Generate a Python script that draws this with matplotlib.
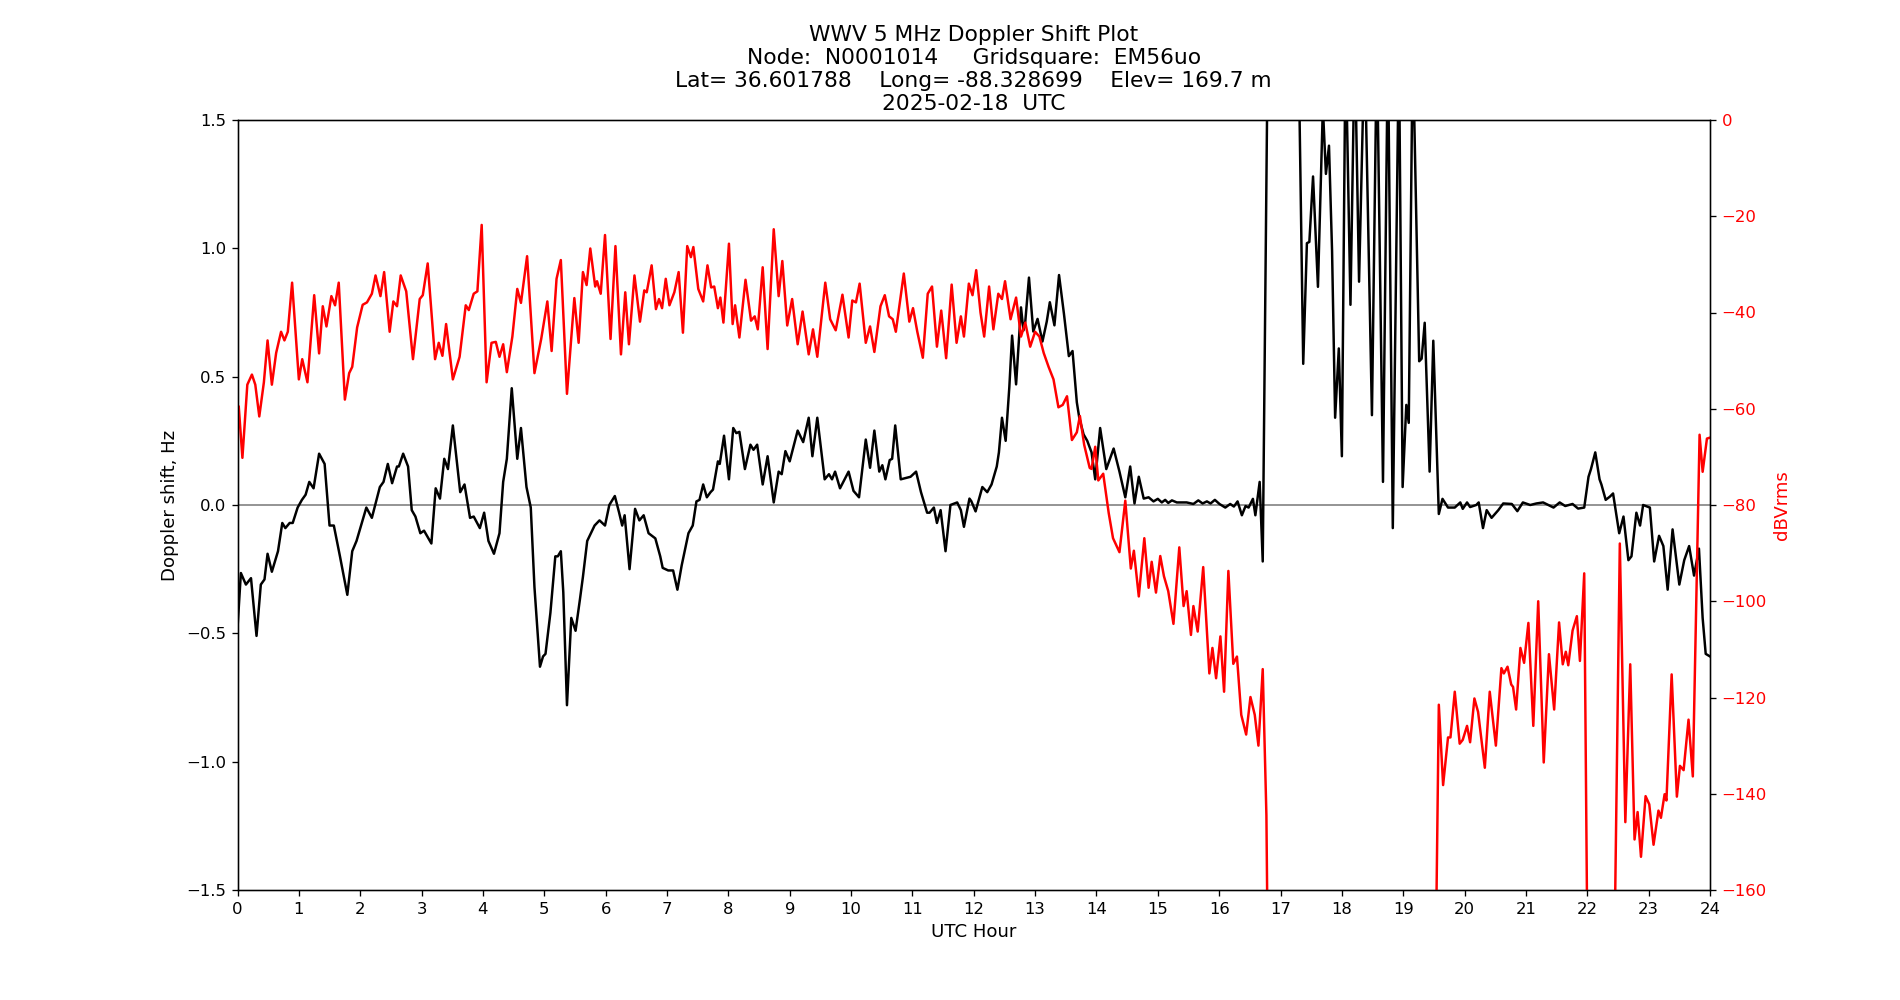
import matplotlib
matplotlib.use("Agg")
import matplotlib.pyplot as plt

dop_hours = [0.00,0.055,0.137,0.22,0.31,0.38,0.44,0.49,0.56,0.66,0.73,0.78,0.85,0.90,0.98,1.05,1.11,1.17,1.24,1.33,1.42,1.50,1.57,1.67,1.79,1.87,1.94,2.10,2.19,2.32,2.38,2.45,2.52,2.60,2.63,2.70,2.78,2.84,2.90,2.98,3.04,3.16,3.23,3.30,3.37,3.43,3.51,3.63,3.70,3.79,3.85,3.95,4.02,4.09,4.18,4.27,4.33,4.39,4.47,4.56,4.62,4.71,4.78,4.84,4.93,4.98,5.02,5.10,5.18,5.22,5.27,5.31,5.37,5.44,5.51,5.58,5.63,5.70,5.82,5.90,5.99,6.06,6.15,6.22,6.27,6.31,6.39,6.48,6.55,6.62,6.70,6.81,6.89,6.93,7.02,7.10,7.17,7.24,7.35,7.42,7.48,7.53,7.59,7.65,7.71,7.75,7.83,7.86,7.93,8.01,8.08,8.13,8.18,8.27,8.36,8.41,8.47,8.56,8.64,8.74,8.82,8.87,8.93,9.00,9.13,9.22,9.31,9.37,9.45,9.57,9.64,9.69,9.74,9.82,9.96,10.04,10.13,10.24,10.31,10.38,10.46,10.51,10.56,10.63,10.67,10.72,10.81,10.97,11.06,11.14,11.24,11.28,11.35,11.40,11.46,11.54,11.62,11.73,11.79,11.84,11.93,11.96,12.03,12.14,12.22,12.29,12.375,12.41,12.46,12.52,12.58,12.625,12.69,12.77,12.81,12.84,12.90,12.97,13.04,13.12,13.19,13.24,13.315,13.39,13.47,13.55,13.61,13.68,13.72,13.79,13.85,13.92,13.98,14.06,14.16,14.28,14.375,14.47,14.55,14.62,14.69,14.77,14.85,14.93,15.00,15.065,15.12,15.17,15.23,15.31,15.47,15.58,15.66,15.73,15.80,15.86,15.93,16.005,16.10,16.18,16.24,16.30,16.37,16.43,16.48,16.55,16.59,16.66,16.71,16.80,17.28,17.37,17.43,17.47,17.53,17.61,17.69,17.74,17.79,17.84,17.89,17.95,18.00,18.06,18.14,18.21,18.28,18.37,18.49,18.57,18.67,18.75,18.83,18.93,18.99,19.05,19.09,19.155,19.26,19.30,19.35,19.43,19.49,19.58,19.64,19.73,19.84,19.93,19.97,20.04,20.09,20.19,20.23,20.30,20.36,20.44,20.55,20.63,20.77,20.86,20.95,21.07,21.17,21.28,21.45,21.55,21.64,21.76,21.85,21.95,22.02,22.06,22.13,22.20,22.23,22.30,22.37,22.42,22.52,22.59,22.67,22.72,22.80,22.86,22.91,23.02,23.09,23.17,23.24,23.31,23.39,23.50,23.58,23.66,23.74,23.82,23.88,23.93,24.00]
dop_hz = [-0.48,-0.265,-0.31,-0.285,-0.51,-0.31,-0.29,-0.19,-0.26,-0.18,-0.07,-0.09,-0.07,-0.07,-0.01,0.02,0.04,0.09,0.065,0.20,0.16,-0.08,-0.08,-0.20,-0.35,-0.18,-0.14,-0.01,-0.05,0.07,0.09,0.16,0.085,0.15,0.15,0.20,0.15,-0.02,-0.045,-0.11,-0.10,-0.15,0.065,0.025,0.18,0.14,0.31,0.05,0.08,-0.05,-0.045,-0.09,-0.03,-0.14,-0.19,-0.11,0.09,0.18,0.455,0.18,0.30,0.07,-0.01,-0.32,-0.63,-0.59,-0.58,-0.42,-0.20,-0.20,-0.18,-0.34,-0.78,-0.44,-0.49,-0.37,-0.28,-0.14,-0.08,-0.06,-0.08,0.0,0.035,-0.03,-0.08,-0.04,-0.25,-0.015,-0.06,-0.04,-0.11,-0.13,-0.20,-0.245,-0.255,-0.255,-0.33,-0.235,-0.11,-0.08,0.014,0.02,0.08,0.03,0.05,0.06,0.17,0.16,0.27,0.10,0.30,0.28,0.285,0.14,0.235,0.215,0.235,0.08,0.19,0.01,0.13,0.12,0.21,0.17,0.29,0.245,0.34,0.19,0.34,0.10,0.12,0.10,0.13,0.065,0.13,0.055,0.03,0.255,0.145,0.29,0.13,0.155,0.10,0.175,0.18,0.31,0.10,0.11,0.13,0.05,-0.03,-0.03,-0.01,-0.07,-0.02,-0.18,0.0,0.01,-0.02,-0.085,0.025,0.015,-0.025,0.07,0.05,0.08,0.15,0.205,0.34,0.25,0.46,0.66,0.47,0.77,0.68,0.715,0.886,0.676,0.725,0.637,0.715,0.79,0.70,0.896,0.745,0.58,0.60,0.40,0.34,0.275,0.25,0.205,0.10,0.30,0.14,0.22,0.13,0.03,0.15,0.006,0.11,0.025,0.03,0.014,0.024,0.01,0.02,0.008,0.018,0.01,0.01,0.004,0.018,0.006,0.014,0.006,0.02,0.004,-0.01,0.004,-0.006,0.014,-0.04,-0.004,-0.01,0.024,-0.04,0.09,-0.22,2.0,2.0,0.55,1.02,1.025,1.28,0.85,1.55,1.29,1.40,0.99,0.34,0.61,0.19,1.8,0.78,1.8,0.87,1.8,0.35,1.8,0.09,1.8,-0.09,1.8,0.07,0.39,0.32,1.8,0.56,0.57,0.71,0.13,0.64,-0.035,0.024,-0.01,-0.01,0.01,-0.015,0.01,-0.008,0.0,0.01,-0.09,-0.02,-0.05,-0.02,0.006,0.004,-0.024,0.01,0.0,0.006,0.01,-0.01,0.01,-0.004,0.004,-0.014,-0.01,0.11,0.14,0.205,0.10,0.08,0.02,0.033,0.045,-0.11,-0.045,-0.215,-0.20,-0.03,-0.08,0.0,-0.01,-0.22,-0.12,-0.16,-0.33,-0.095,-0.31,-0.215,-0.16,-0.275,-0.17,-0.44,-0.58,-0.59]

pwr_hours = [0.00,0.02,0.08,0.16,0.235,0.29,0.355,0.43,0.49,0.56,0.63,0.71,0.765,0.82,0.89,1.00,1.055,1.14,1.25,1.33,1.39,1.45,1.53,1.59,1.65,1.75,1.82,1.87,1.95,2.04,2.11,2.19,2.25,2.33,2.39,2.48,2.54,2.60,2.66,2.75,2.86,2.97,3.02,3.10,3.22,3.28,3.34,3.40,3.51,3.62,3.72,3.77,3.85,3.91,3.98,4.06,4.14,4.21,4.27,4.33,4.39,4.48,4.56,4.62,4.72,4.84,4.95,5.05,5.12,5.20,5.27,5.37,5.49,5.56,5.63,5.69,5.75,5.83,5.86,5.92,5.99,6.08,6.16,6.25,6.32,6.38,6.47,6.56,6.63,6.67,6.75,6.82,6.87,6.92,6.98,7.04,7.12,7.19,7.26,7.33,7.39,7.43,7.51,7.59,7.66,7.72,7.77,7.83,7.87,7.92,8.01,8.07,8.11,8.18,8.28,8.37,8.43,8.48,8.56,8.64,8.74,8.82,8.88,8.96,9.04,9.13,9.21,9.31,9.38,9.45,9.58,9.66,9.75,9.86,9.96,10.02,10.08,10.14,10.24,10.31,10.38,10.48,10.55,10.62,10.68,10.73,10.86,10.95,11.01,11.08,11.17,11.25,11.32,11.40,11.47,11.55,11.64,11.72,11.79,11.84,11.92,11.98,12.04,12.11,12.17,12.25,12.32,12.40,12.46,12.51,12.60,12.69,12.77,12.84,12.92,13.00,13.07,13.14,13.22,13.30,13.38,13.45,13.52,13.60,13.68,13.73,13.80,13.89,13.92,13.98,14.03,14.11,14.20,14.27,14.375,14.47,14.56,14.61,14.69,14.78,14.85,14.90,14.97,15.04,15.10,15.17,15.255,15.35,15.42,15.47,15.54,15.58,15.65,15.74,15.84,15.89,15.95,16.02,16.08,16.15,16.23,16.29,16.36,16.44,16.51,16.58,16.64,16.71,16.77,16.80,19.52,19.58,19.65,19.73,19.77,19.84,19.92,19.97,20.04,20.09,20.16,20.22,20.33,20.41,20.51,20.60,20.64,20.70,20.76,20.79,20.84,20.91,20.97,21.04,21.12,21.20,21.29,21.375,21.46,21.54,21.60,21.65,21.69,21.76,21.83,21.88,21.95,22.01,22.43,22.53,22.62,22.70,22.77,22.82,22.875,22.95,23.01,23.08,23.16,23.20,23.26,23.29,23.375,23.46,23.51,23.57,23.65,23.72,23.83,23.88,23.95,24.00]
pwr_db = [-60,-59.5,-70.2,-55,-52.9,-55,-61.6,-54.5,-45.8,-55,-48.4,-44,-45.8,-44,-33.8,-53.9,-49.7,-54.5,-36.4,-48.5,-38.7,-42.9,-36.6,-38.5,-33.8,-58.1,-52.6,-51.3,-43.1,-38.4,-37.9,-36.1,-32.3,-36.6,-31.6,-44,-37.7,-38.7,-32.3,-35.6,-49.7,-37.2,-36.4,-29.8,-49.7,-46.3,-49,-42.4,-53.9,-49.2,-38.5,-39.5,-36.1,-35.6,-21.8,-54.5,-46.3,-46.1,-49.2,-46.6,-52.4,-45,-35.1,-38,-28.3,-52.6,-45.5,-37.7,-48,-33,-29.1,-56.9,-37,-46.3,-31.6,-34.3,-26.7,-34.6,-33.5,-36.1,-23.9,-45.5,-26.2,-48.7,-35.8,-46.6,-32.3,-41.9,-35.4,-35.8,-30.2,-39.3,-37.2,-39.1,-33,-38.5,-35.8,-31.6,-44.2,-26.2,-28.5,-26.4,-35.1,-37.7,-30.2,-34.8,-34.6,-39.1,-36.9,-42.1,-25.7,-42.4,-38.5,-45.2,-33.2,-41.7,-40.8,-43.5,-30.6,-47.6,-22.7,-36.6,-29.3,-42.7,-37.2,-46.6,-39.8,-48.7,-43.5,-49.2,-33.8,-41.4,-43.7,-36.3,-45.2,-37.5,-37.9,-34,-46.3,-42.9,-48.2,-38.7,-36.4,-40.8,-41.4,-44,-31.9,-41.9,-39.1,-44,-49.4,-36.1,-34.6,-47.1,-39.6,-49.5,-34.2,-46.3,-40.8,-45,-34,-36.4,-31.2,-40,-45,-34.6,-43.5,-36.1,-37.2,-33.5,-41.4,-36.9,-45,-42.1,-47.1,-44,-45,-48.4,-51.3,-53.9,-59.7,-59.2,-57.4,-66.5,-64.9,-61.5,-67.5,-72.3,-72.5,-67.9,-74.9,-73.5,-81.7,-86.9,-89.8,-79.1,-93.2,-89.5,-99,-86.9,-97.2,-91.8,-98.2,-90.6,-94.8,-97.9,-104.7,-88.8,-101,-97.9,-107,-101,-106.3,-92.9,-115,-109.7,-116,-107.3,-118.8,-93.7,-113,-111.5,-123.6,-127.7,-119.9,-123.6,-130,-114.1,-144.5,-185,-185,-121.5,-138.2,-128.3,-128.3,-118.8,-129.6,-128.8,-125.9,-129.3,-120.2,-123,-134.6,-118.8,-130,-113.9,-115,-113.6,-117.3,-117.8,-122.5,-109.7,-112.8,-104.5,-125.9,-100,-133.5,-111,-122.5,-104.4,-113.1,-110.5,-113.3,-106.1,-103.1,-112.4,-94.2,-185,-185,-88,-145.9,-113.1,-149.5,-143.8,-153.1,-140.5,-142.2,-150.6,-143.5,-145,-140.1,-141.4,-115.2,-140.6,-134.2,-135.1,-124.6,-136.4,-65.4,-73.1,-66.2,-66]

x_ticks = list(range(0, 25))
left_ticks = [-1.5, -1.0, -0.5, 0.0, 0.5, 1.0, 1.5]
right_ticks = [0, -20, -40, -60, -80, -100, -120, -140, -160]

title = ("WWV 5 MHz Doppler Shift Plot\n"
         "Node:  N0001014     Gridsquare:  EM56uo\n"
         "Lat= 36.601788    Long= -88.328699    Elev= 169.7 m\n"
         "2025-02-18  UTC")

DPI = 118.75
fig = plt.figure(figsize=(1900 / DPI, 1000 / DPI), dpi=DPI)
ax = fig.add_subplot(111)
ax.axhline(0, color="gray", linewidth=1)
ax.plot(dop_hours, dop_hz, color="black", linewidth=1.5)
ax.set_xlim(0, 24)
ax.set_ylim(-1.5, 1.5)
ax.set_xticks(x_ticks)
ax.set_yticks(left_ticks)
ax.set_xlabel("UTC Hour", fontsize=11)
ax.set_ylabel("Doppler shift, Hz", fontsize=11)
ax.set_title(title, fontsize=13.2)

ax2 = ax.twinx()
ax2.plot(pwr_hours, pwr_db, color="red", linewidth=1.5)
ax2.set_ylim(-160, 0)
ax2.set_yticks(right_ticks)
ax2.set_ylabel("dBVrms", color="red", fontsize=11)
ax2.tick_params(axis="y", labelcolor="red")

fig.savefig("out.png", dpi=DPI)
